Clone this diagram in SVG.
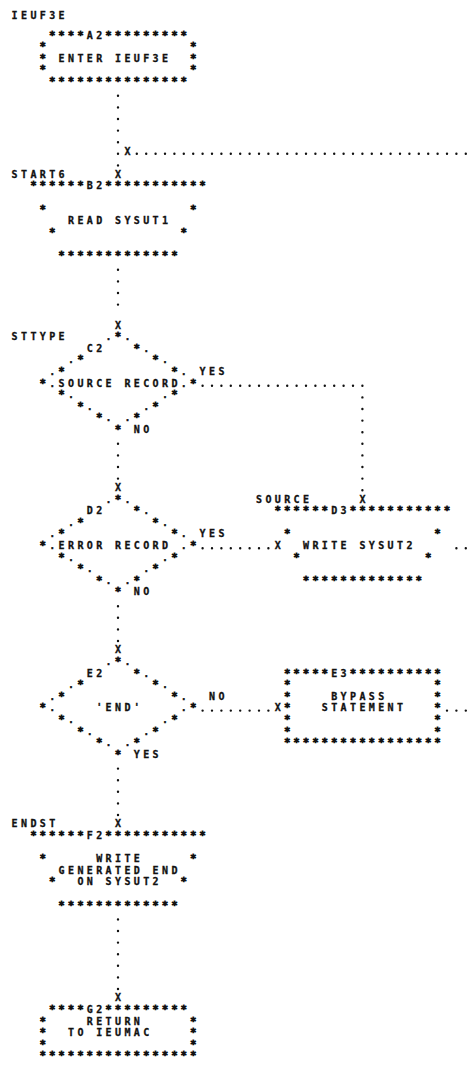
<svg xmlns="http://www.w3.org/2000/svg" width="472" height="1066" viewBox="0 0 472 1066">
<style>
.t{font-family:"DejaVu Sans Mono","Liberation Mono",monospace;font-size:10px;font-weight:bold;letter-spacing:3.38px;fill:#111;stroke:#111;stroke-width:0.3}
.s{stroke-width:0.8;stroke-linejoin:miter}
.dh{stroke:#111;stroke-width:2.4;stroke-linecap:round;stroke-dasharray:0 9.4;fill:none}
.dv{stroke:#111;stroke-width:2.4;stroke-linecap:round;stroke-dasharray:0 11.6;fill:none}
</style>
<rect width="472" height="1066" fill="#fff"/>
<g id="A2">
<text class="t" x="11.6" y="19">IEUF3E</text>
<text class="t" x="49.2" y="38.6"><tspan class="s">****</tspan>A2<tspan class="s">*********</tspan></text>
<text class="t s" x="39.8" y="50.2">*</text><text class="t s" x="190.2" y="50.2">*</text>
<text class="t s" x="39.8" y="61.8">*</text><text class="t" x="58.6" y="61.8">ENTER IEUF3E</text><text class="t s" x="190.2" y="61.8">*</text>
<text class="t s" x="39.8" y="73.4">*</text><text class="t s" x="190.2" y="73.4">*</text>
<text class="t s" x="49.2" y="85">***************</text>
</g>
<g id="B2">
<text class="t" x="11.6" y="177.8">START6</text>
<text class="t" x="30.4" y="189.4"><tspan class="s">******</tspan>B2<tspan class="s">***********</tspan></text>
<text class="t s" x="39.8" y="212.6">*</text><text class="t s" x="190.2" y="212.6">*</text>
<text class="t" x="68" y="224.2">READ SYSUT1</text>
<text class="t s" x="49.2" y="235.8">*</text><text class="t s" x="180.8" y="235.8">*</text>
<text class="t s" x="58.6" y="259">*************</text>
</g>
<g id="C2">
<text class="t" x="11.6" y="340.2">STTYPE</text>
<text class="t" x="105.6" y="340.2">.<tspan class="s">*</tspan>.</text>
<text class="t" x="86.8" y="351.8">C2</text><text class="t" x="133.8" y="351.8"><tspan class="s">*</tspan>.</text>
<text class="t" x="68" y="363.4">.<tspan class="s">*</tspan></text><text class="t" x="152.6" y="363.4"><tspan class="s">*</tspan>.</text>
<text class="t" x="49.2" y="375">.<tspan class="s">*</tspan></text><text class="t" x="171.4" y="375"><tspan class="s">*</tspan>.</text>
<text class="t" x="39.8" y="386.6"><tspan class="s">*</tspan>.</text><text class="t" x="58.6" y="386.6">SOURCE RECORD</text><text class="t" x="180.8" y="386.6">.<tspan class="s">*</tspan></text>
<text class="t" x="58.6" y="398.2"><tspan class="s">*</tspan>.</text><text class="t" x="162" y="398.2">.<tspan class="s">*</tspan></text>
<text class="t" x="77.4" y="409.8"><tspan class="s">*</tspan>.</text><text class="t" x="143.2" y="409.8">.<tspan class="s">*</tspan></text>
<text class="t" x="96.2" y="421.4"><tspan class="s">*</tspan>.</text><text class="t" x="124.4" y="421.4">.<tspan class="s">*</tspan></text>
<text class="t s" x="115" y="433">*</text>
</g>
<g id="D2">
<text class="t" x="105.6" y="502.6">.<tspan class="s">*</tspan>.</text>
<text class="t" x="86.8" y="514.2">D2</text><text class="t" x="133.8" y="514.2"><tspan class="s">*</tspan>.</text>
<text class="t" x="68" y="525.8">.<tspan class="s">*</tspan></text><text class="t" x="152.6" y="525.8"><tspan class="s">*</tspan>.</text>
<text class="t" x="49.2" y="537.4">.<tspan class="s">*</tspan></text><text class="t" x="171.4" y="537.4"><tspan class="s">*</tspan>.</text>
<text class="t" x="39.8" y="549"><tspan class="s">*</tspan>.</text><text class="t" x="58.6" y="549">ERROR RECORD</text><text class="t" x="180.8" y="549">.<tspan class="s">*</tspan></text>
<text class="t" x="58.6" y="560.6"><tspan class="s">*</tspan>.</text><text class="t" x="162" y="560.6">.<tspan class="s">*</tspan></text>
<text class="t" x="77.4" y="572.2"><tspan class="s">*</tspan>.</text><text class="t" x="143.2" y="572.2">.<tspan class="s">*</tspan></text>
<text class="t" x="96.2" y="583.8"><tspan class="s">*</tspan>.</text><text class="t" x="124.4" y="583.8">.<tspan class="s">*</tspan></text>
<text class="t s" x="115" y="595.4">*</text>
</g>
<g id="D3">
<text class="t" x="256" y="502.6">SOURCE</text>
<text class="t" x="274.8" y="514.2"><tspan class="s">******</tspan>D3<tspan class="s">***********</tspan></text>
<text class="t s" x="284.2" y="537.4">*</text><text class="t s" x="434.6" y="537.4">*</text>
<text class="t" x="303" y="549">WRITE SYSUT2</text>
<text class="t s" x="293.6" y="560.6">*</text><text class="t s" x="425.2" y="560.6">*</text>
<text class="t s" x="303" y="583.8">*************</text>
</g>
<g id="E2">
<text class="t" x="105.6" y="665">.<tspan class="s">*</tspan>.</text>
<text class="t" x="86.8" y="676.6">E2</text><text class="t" x="133.8" y="676.6"><tspan class="s">*</tspan>.</text>
<text class="t" x="68" y="688.2">.<tspan class="s">*</tspan></text><text class="t" x="152.6" y="688.2"><tspan class="s">*</tspan>.</text>
<text class="t" x="49.2" y="699.8">.<tspan class="s">*</tspan></text><text class="t" x="171.4" y="699.8"><tspan class="s">*</tspan>.</text>
<text class="t" x="39.8" y="711.4"><tspan class="s">*</tspan>.</text><text class="t" x="96.2" y="711.4">'END'</text><text class="t" x="180.8" y="711.4">.<tspan class="s">*</tspan></text>
<text class="t" x="58.6" y="723"><tspan class="s">*</tspan>.</text><text class="t" x="162" y="723">.<tspan class="s">*</tspan></text>
<text class="t" x="77.4" y="734.6"><tspan class="s">*</tspan>.</text><text class="t" x="143.2" y="734.6">.<tspan class="s">*</tspan></text>
<text class="t" x="96.2" y="746.2"><tspan class="s">*</tspan>.</text><text class="t" x="124.4" y="746.2">.<tspan class="s">*</tspan></text>
<text class="t s" x="115" y="757.8">*</text>
</g>
<g id="E3">
<text class="t" x="284.2" y="676.6"><tspan class="s">*****</tspan>E3<tspan class="s">**********</tspan></text>
<text class="t s" x="284.2" y="688.2">*</text><text class="t s" x="434.6" y="688.2">*</text>
<text class="t s" x="284.2" y="699.8">*</text><text class="t" x="331.2" y="699.8">BYPASS</text><text class="t s" x="434.6" y="699.8">*</text>
<text class="t s" x="284.2" y="711.4">*</text><text class="t" x="321.8" y="711.4">STATEMENT</text><text class="t s" x="434.6" y="711.4">*</text>
<text class="t s" x="284.2" y="723">*</text><text class="t s" x="434.6" y="723">*</text>
<text class="t s" x="284.2" y="734.6">*</text><text class="t s" x="434.6" y="734.6">*</text>
<text class="t s" x="284.2" y="746.2">*****************</text>
</g>
<g id="F2">
<text class="t" x="11.6" y="827.4">ENDST</text>
<text class="t" x="30.4" y="839"><tspan class="s">******</tspan>F2<tspan class="s">***********</tspan></text>
<text class="t s" x="39.8" y="862.2">*</text><text class="t" x="96.2" y="862.2">WRITE</text><text class="t s" x="190.2" y="862.2">*</text>
<text class="t" x="58.6" y="873.8">GENERATED END</text>
<text class="t s" x="49.2" y="885.4">*</text><text class="t" x="77.4" y="885.4">ON SYSUT2</text><text class="t s" x="180.8" y="885.4">*</text>
<text class="t s" x="58.6" y="908.6">*************</text>
</g>
<g id="G2">
<text class="t" x="49.2" y="1013"><tspan class="s">****</tspan>G2<tspan class="s">*********</tspan></text>
<text class="t s" x="39.8" y="1024.6">*</text><text class="t" x="86.8" y="1024.6">RETURN</text><text class="t s" x="190.2" y="1024.6">*</text>
<text class="t s" x="39.8" y="1036.2">*</text><text class="t" x="68" y="1036.2">TO IEUMAC</text><text class="t s" x="190.2" y="1036.2">*</text>
<text class="t s" x="39.8" y="1047.8">*</text><text class="t s" x="190.2" y="1047.8">*</text>
<text class="t s" x="39.8" y="1059.4">*****************</text>
</g>
<g id="connectors">
<line class="dv" x1="118" y1="95.8" x2="118" y2="165.6"/>
<line class="dh" x1="136.8" y1="153.8" x2="466" y2="153.8"/>
<line class="dv" x1="118" y1="269.8" x2="118" y2="316"/>
<line class="dh" x1="202.6" y1="385.8" x2="362.6" y2="385.8"/>
<line class="dv" x1="362.4" y1="397.4" x2="362.4" y2="490.4"/>
<line class="dv" x1="118" y1="443.8" x2="118" y2="478.8"/>
<line class="dh" x1="202.6" y1="548.2" x2="268.6" y2="548.2"/>
<line class="dh" x1="456.4" y1="548.2" x2="466" y2="548.2"/>
<line class="dv" x1="118" y1="606.2" x2="118" y2="641.2"/>
<line class="dh" x1="202.6" y1="710.6" x2="268.6" y2="710.6"/>
<line class="dh" x1="447" y1="710.6" x2="466" y2="710.6"/>
<line class="dv" x1="118" y1="768.6" x2="118" y2="815.2"/>
<line class="dv" x1="118" y1="919.4" x2="118" y2="989.2"/>
<text class="t" x="124.4" y="154.6">X</text>
<text class="t" x="115" y="177.8">X</text>
<text class="t" x="115" y="328.6">X</text>
<text class="t" x="199.6" y="375">YES</text>
<text class="t" x="133.8" y="433">NO</text>
<text class="t" x="115" y="491">X</text>
<text class="t" x="359.4" y="502.6">X</text>
<text class="t" x="199.6" y="537.4">YES</text>
<text class="t" x="274.8" y="549">X</text>
<text class="t" x="133.8" y="595.4">NO</text>
<text class="t" x="115" y="653.4">X</text>
<text class="t" x="209" y="699.8">NO</text>
<text class="t" x="274.8" y="711.4">X</text>
<text class="t" x="133.8" y="757.8">YES</text>
<text class="t" x="115" y="827.4">X</text>
<text class="t" x="115" y="1001.4">X</text>
</g>
</svg>
